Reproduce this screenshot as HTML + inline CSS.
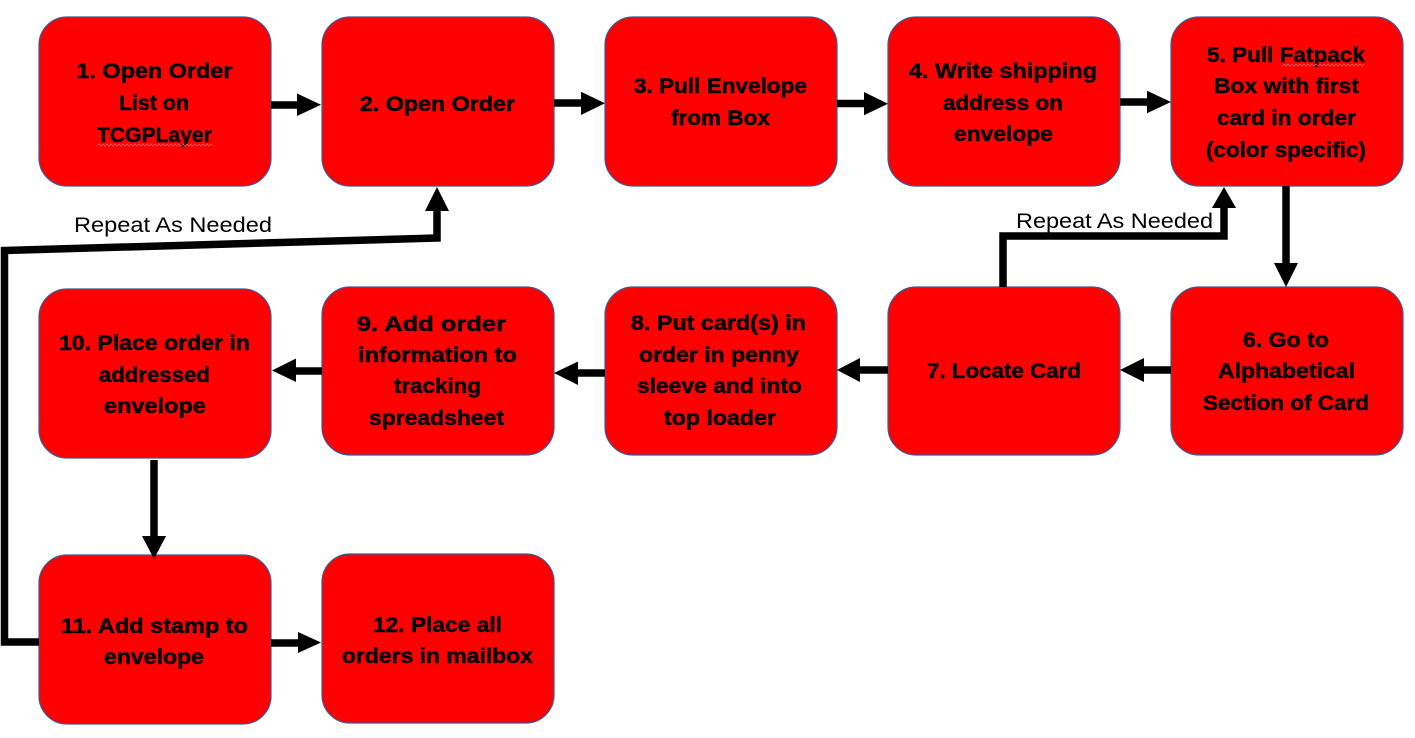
<!DOCTYPE html>
<html>
<head>
<meta charset="utf-8">
<style>
  html,body{margin:0;padding:0;background:#fff;}
  svg{display:block;}
  .b{fill:#ff0000;stroke:#3b5a9a;stroke-width:1.2;}
  .t{font-family:"Liberation Sans",Arial,sans-serif;font-weight:bold;font-size:21px;fill:#000;stroke:#000;stroke-width:0.4;}
  .r{font-family:"Liberation Sans",Arial,sans-serif;font-size:21px;fill:#000;}
  .ln{fill:none;stroke:#000;stroke-width:7.5;stroke-linejoin:miter;stroke-linecap:butt;}
</style>
</head>
<body>
<svg width="1415" height="738" viewBox="0 0 1415 738" xmlns="http://www.w3.org/2000/svg">
  <!-- Row 1 boxes -->
  <rect class="b" x="39" y="17" width="232" height="169" rx="28"/>
  <rect class="b" x="322" y="17" width="232" height="169" rx="28"/>
  <rect class="b" x="605" y="17" width="232" height="169" rx="28"/>
  <rect class="b" x="888" y="17" width="232" height="169" rx="28"/>
  <rect class="b" x="1171" y="17" width="232" height="169" rx="28"/>
  <!-- Row 2 boxes -->
  <rect class="b" x="39" y="289" width="232" height="169" rx="28"/>
  <rect class="b" x="322" y="287" width="232" height="168" rx="28"/>
  <rect class="b" x="605" y="287" width="232" height="168" rx="28"/>
  <rect class="b" x="888" y="287" width="232" height="168" rx="28"/>
  <rect class="b" x="1171" y="287" width="232" height="168" rx="28"/>
  <!-- Row 3 boxes -->
  <rect class="b" x="39" y="555" width="232" height="169" rx="28"/>
  <rect class="b" x="322" y="554" width="232" height="169" rx="28"/>

  <!-- Box texts -->
  <text class="t" x="76.5" y="78" textLength="156" lengthAdjust="spacingAndGlyphs">1. Open Order</text>
  <text class="t" x="119" y="110" textLength="70" lengthAdjust="spacingAndGlyphs">List on</text>
  <text class="t" x="97" y="142" textLength="115" lengthAdjust="spacingAndGlyphs">TCGPLayer</text>
  <polyline points="97,146 99,144 101,146 103,144 105,146 107,144 109,146 111,144 113,146 115,144 117,146 119,144 121,146 123,144 125,146 127,144 129,146 131,144 133,146 135,144 137,146 139,144 141,146 143,144 145,146 147,144 149,146 151,144 153,146 155,144 157,146 159,144 161,146 163,144 165,146 167,144 169,146 171,144 173,146 175,144 177,146 179,144 181,146 183,144 185,146 187,144 189,146 191,144 193,146 195,144 197,146 199,144 201,146 203,144 205,146 207,144 209,146 211,144 213,146" fill="none" stroke="#e05a5a" stroke-width="0.8"/>

  <text class="t" x="360" y="111" textLength="155" lengthAdjust="spacingAndGlyphs">2. Open Order</text>

  <text class="t" x="634" y="93" textLength="173" lengthAdjust="spacingAndGlyphs">3. Pull Envelope</text>
  <text class="t" x="671" y="125" textLength="99" lengthAdjust="spacingAndGlyphs">from Box</text>

  <text class="t" x="909" y="78" textLength="188" lengthAdjust="spacingAndGlyphs">4. Write shipping</text>
  <text class="t" x="943" y="110" textLength="120" lengthAdjust="spacingAndGlyphs">address on</text>
  <text class="t" x="954" y="141" textLength="99" lengthAdjust="spacingAndGlyphs">envelope</text>

  <text class="t" x="1207" y="62" textLength="158" lengthAdjust="spacingAndGlyphs">5. Pull Fatpack</text>
  <polyline points="1282,66 1284,64 1286,66 1288,64 1290,66 1292,64 1294,66 1296,64 1298,66 1300,64 1302,66 1304,64 1306,66 1308,64 1310,66 1312,64 1314,66 1316,64 1318,66 1320,64 1322,66 1324,64 1326,66 1328,64 1330,66 1332,64 1334,66 1336,64 1338,66 1340,64 1342,66 1344,64 1346,66 1348,64 1350,66 1352,64 1354,66 1356,64 1358,66 1360,64 1362,66 1364,64" fill="none" stroke="#e05a5a" stroke-width="0.8"/>
  <text class="t" x="1214" y="93" textLength="145" lengthAdjust="spacingAndGlyphs">Box with first</text>
  <text class="t" x="1217" y="125" textLength="139" lengthAdjust="spacingAndGlyphs">card in order</text>
  <text class="t" x="1206" y="157" textLength="160" lengthAdjust="spacingAndGlyphs">(color specific)</text>

  <text class="t" x="1243" y="347" textLength="86" lengthAdjust="spacingAndGlyphs">6. Go to</text>
  <text class="t" x="1218" y="378" textLength="137" lengthAdjust="spacingAndGlyphs">Alphabetical</text>
  <text class="t" x="1203" y="410" textLength="166" lengthAdjust="spacingAndGlyphs">Section of Card</text>

  <text class="t" x="927" y="378" textLength="154" lengthAdjust="spacingAndGlyphs">7. Locate Card</text>

  <text class="t" x="631" y="330" textLength="175" lengthAdjust="spacingAndGlyphs">8. Put card(s) in</text>
  <text class="t" x="639" y="362" textLength="160" lengthAdjust="spacingAndGlyphs">order in penny</text>
  <text class="t" x="637" y="393" textLength="165" lengthAdjust="spacingAndGlyphs">sleeve and into</text>
  <text class="t" x="664" y="425" textLength="112" lengthAdjust="spacingAndGlyphs">top loader</text>

  <text class="t" x="357" y="331" textLength="149" lengthAdjust="spacingAndGlyphs">9. Add order</text>
  <text class="t" x="358" y="362" textLength="159" lengthAdjust="spacingAndGlyphs">information to</text>
  <text class="t" x="394" y="393" textLength="87" lengthAdjust="spacingAndGlyphs">tracking</text>
  <text class="t" x="369" y="425" textLength="135" lengthAdjust="spacingAndGlyphs">spreadsheet</text>

  <text class="t" x="59" y="350" textLength="191" lengthAdjust="spacingAndGlyphs">10. Place order in</text>
  <text class="t" x="99" y="382" textLength="111" lengthAdjust="spacingAndGlyphs">addressed</text>
  <text class="t" x="104" y="413" textLength="102" lengthAdjust="spacingAndGlyphs">envelope</text>

  <text class="t" x="61" y="633" textLength="187" lengthAdjust="spacingAndGlyphs">11. Add stamp to</text>
  <text class="t" x="104" y="664" textLength="100" lengthAdjust="spacingAndGlyphs">envelope</text>

  <text class="t" x="373" y="632" textLength="129" lengthAdjust="spacingAndGlyphs">12. Place all</text>
  <text class="t" x="342" y="663" textLength="191" lengthAdjust="spacingAndGlyphs">orders in mailbox</text>

  <!-- Repeat labels -->
  <text class="r" x="74" y="232" textLength="198" lengthAdjust="spacingAndGlyphs">Repeat As Needed</text>
  <text class="r" x="1016" y="228" textLength="197" lengthAdjust="spacingAndGlyphs">Repeat As Needed</text>

  <!-- Horizontal arrows row 1 -->
  <line class="ln" x1="271" y1="105" x2="299" y2="105"/>
  <polygon points="297,93.5 321,104.7 297,116"/>
  <line class="ln" x1="554" y1="103" x2="583" y2="103"/>
  <polygon points="581,91.7 605,103.3 581,115"/>
  <line class="ln" x1="837" y1="103.5" x2="866" y2="103.5"/>
  <polygon points="864,92 888,103.7 864,115.3"/>
  <line class="ln" x1="1120" y1="102" x2="1149" y2="102"/>
  <polygon points="1147,90.7 1171,102 1147,113.3"/>

  <!-- 5 -> 6 -->
  <line class="ln" x1="1286" y1="186" x2="1286" y2="265"/>
  <polygon points="1274,263 1298,263 1286,287"/>

  <!-- Row 2 arrows (right to left) -->
  <line class="ln" x1="1171" y1="370" x2="1142" y2="370"/>
  <polygon points="1144,358 1144,382 1120,370"/>
  <line class="ln" x1="888" y1="370" x2="858" y2="370"/>
  <polygon points="860,358 860,382 837,370"/>
  <line class="ln" x1="605" y1="373" x2="576" y2="373"/>
  <polygon points="578,361.5 578,385 554,373"/>
  <line class="ln" x1="322" y1="371" x2="294" y2="371"/>
  <polygon points="296,358.5 296,382 272,370.5"/>

  <!-- 10 -> 11 -->
  <line class="ln" x1="154" y1="460" x2="154" y2="538"/>
  <polygon points="142,536 166,536 154,559"/>

  <!-- 11 -> 12 -->
  <line class="ln" x1="271" y1="643" x2="300" y2="643"/>
  <polygon points="298,632 321,642.5 298,653"/>

  <!-- Loop 1: 11 back to 2 -->
  <polyline class="ln" points="39,642 4.5,642 4.5,250.5 437,238 437,209"/>
  <polygon points="425,211 449,211 437,187"/>

  <!-- Loop 2: 7 back to 5 -->
  <polyline class="ln" points="1003,287 1003,236 1224,236 1224,206"/>
  <polygon points="1212,208 1236,208 1224,187"/>
</svg>
</body>
</html>
